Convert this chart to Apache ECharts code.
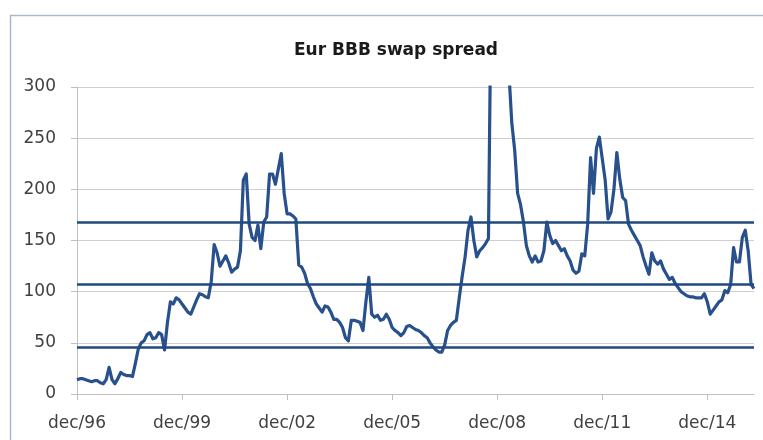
<!DOCTYPE html>
<html>
<head>
<meta charset="utf-8">
<script src="https://cdn.jsdelivr.net/npm/echarts@6/dist/echarts.min.js"></script>
<style>
  html, body { margin: 0; padding: 0; background: #ffffff; }
  #chart { width: 763px; height: 440px; }
</style>
</head>
<body>
<div id="chart"></div>
<script>
// Monthly Eur BBB swap spread (bp), dec/96 onwards
const startYear = 1996;
const monthNames = ['jan','feb','mar','apr','may','jun','jul','aug','sep','oct','nov','dec'];

const spread = [
  14, 15, 15, 14, 13, 12, 13, 13, 11, 10, 14, 26,
  14, 10, 15, 21, 19, 18, 18, 17, 30, 44, 50, 52,
  58, 60, 54, 55, 60, 58, 43, 70, 90, 88, 94, 92,
  88, 84, 80, 78, 85, 92, 98, 97, 95, 94, 110, 146,
  138, 125, 130, 135, 128, 119, 122, 124, 140, 209, 215, 166,
  153, 150, 165, 142, 168, 173, 215, 215, 205, 220, 235, 196,
  176, 176, 174, 171, 126, 124, 118, 108, 103, 95, 88, 84,
  80, 86, 85, 80, 73, 73, 70, 65, 55, 52, 72, 72,
  71, 70, 62, 90, 114, 78, 75, 77, 72, 73, 78, 73,
  65, 62, 60, 57, 60, 66, 67, 65, 63, 62, 60, 57,
  55, 50, 46, 43, 41, 41, 48, 62, 67, 70, 72, 94,
  115, 134, 160, 173, 150, 134, 140, 143, 147, 152, 420, 480,
  520, 450, 400, 340, 315, 265, 238, 196, 185, 168, 145, 135,
  129, 135, 129, 130, 140, 168, 155, 147, 150, 145, 140, 142,
  135, 130, 121, 118, 120, 137, 135, 166, 231, 196, 240, 251,
  230, 209, 171, 178, 200, 236, 210, 192, 189, 166, 160, 155,
  150, 145, 134, 125, 117, 138, 130, 127, 130, 122, 117, 112,
  114, 108, 104, 100, 98, 96, 95, 95, 94, 94, 94, 98,
  90, 78, 82, 86, 90, 92, 101, 99, 107, 143, 129, 129,
  153, 160, 140, 107, 103
];

// Reference levels: mean and mean +/- one standard deviation
const bandLevels = [168, 107, 46];

const yTicks = { min: 0, max: 300, step: 50 };

// Category labels like "dec/96", "jan/97", ...
const months = spread.map((_, i) => {
  const idx = 11 + i;
  const y = startYear + Math.floor(idx / 12);
  return monthNames[idx % 12] + '/' + String(y % 100).padStart(2, '0');
});

const chart = echarts.init(document.getElementById('chart'), null, { renderer: 'canvas' });

const fontFamily = '"DejaVu Sans", sans-serif';

chart.setOption({
  animation: false,
  backgroundColor: '#ffffff',
  graphic: [{
    type: 'rect',
    shape: { x: 10.5, y: 15.5, width: 800, height: 500 },
    style: { fill: 'none', stroke: '#A9BACD', lineWidth: 1.5 },
    silent: true,
    z: 0
  }],
  title: {
    text: 'Eur BBB swap spread',
    left: 391,
    textAlign: 'center',
    top: 37,
    textStyle: { fontFamily, fontSize: 17, fontWeight: 'bold', color: '#1a1a1a' }
  },
  grid: { left: 77, right: 9, top: 87, bottom: 46, containLabel: false },
  xAxis: {
    type: 'category',
    data: months,
    boundaryGap: false,
    axisLine: { show: true, lineStyle: { color: '#BFBFBF', width: 1 } },
    axisTick: { show: true, interval: 35, length: 6, lineStyle: { color: '#BFBFBF' } },
    axisLabel: {
      interval: 35,
      margin: 21,
      fontFamily, fontSize: 17, color: '#404040'
    },
    splitLine: { show: false }
  },
  yAxis: {
    type: 'value',
    min: yTicks.min,
    max: yTicks.max,
    interval: yTicks.step,
    axisLine: { show: true, lineStyle: { color: '#BFBFBF', width: 1 } },
    axisTick: { show: true, length: 6, lineStyle: { color: '#BFBFBF' } },
    axisLabel: { margin: 21, fontFamily, fontSize: 17, color: '#404040' },
    splitLine: { show: true, lineStyle: { color: '#CFCFCF', width: 1 } }
  },
  series: [{
    type: 'line',
    data: spread,
    showSymbol: false,
    symbol: 'none',
    smooth: false,
    clip: true,
    lineStyle: { color: '#27508C', width: 3.2, join: 'round' },
    markLine: {
      silent: true,
      symbol: ['none', 'none'],
      label: { show: false },
      lineStyle: { color: '#21487F', width: 2.5, type: 'solid' },
      data: bandLevels.map(v => ({ yAxis: v }))
    },
    z: 3
  }]
});
</script>
</body>
</html>
